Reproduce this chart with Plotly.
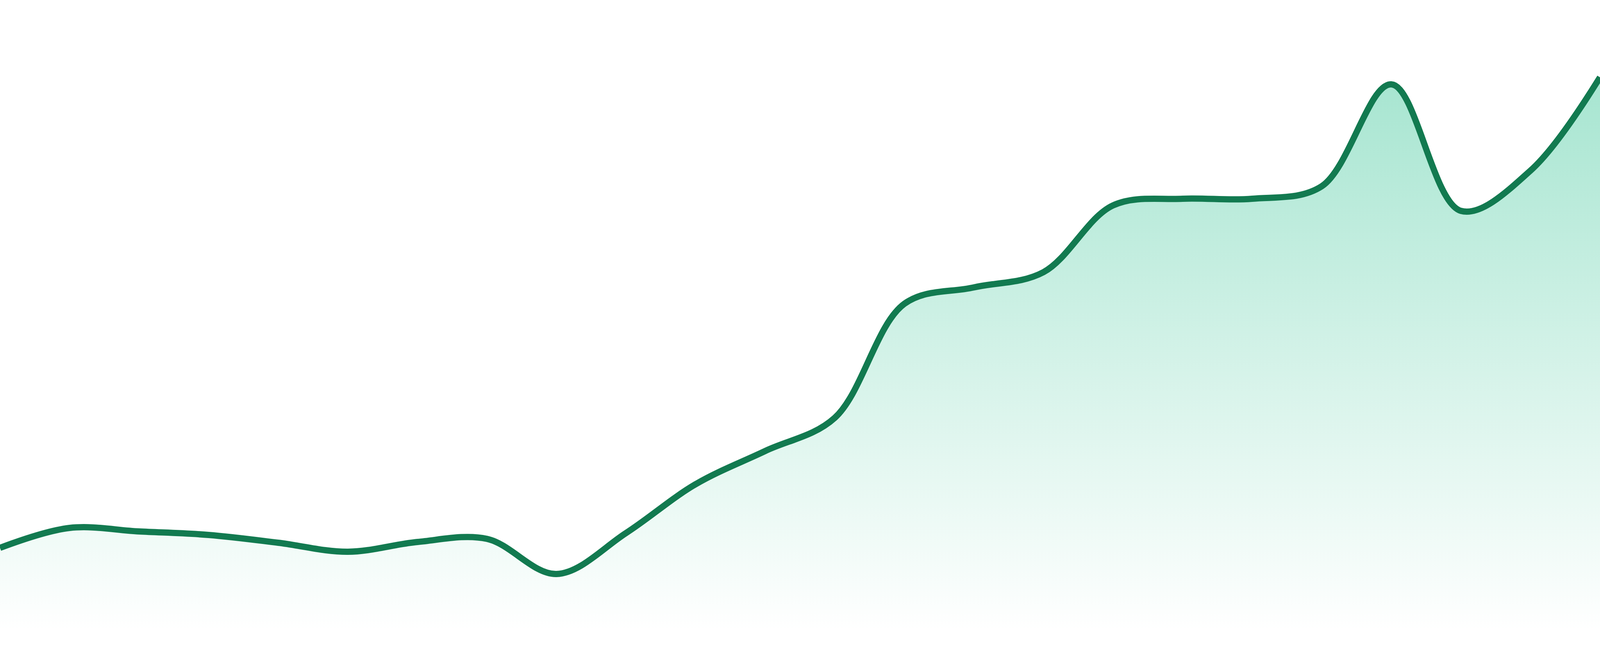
import plotly.graph_objects as go

# values (baseline = 0)
idx    = list(range(24))
values = [22.9, 28.0, 27.1, 26.2, 24.2, 21.9, 24.4, 25.2, 16.2, 26.7, 39.2, 47.7,
          56.2, 85.4, 89.6, 93.5, 110.6, 112.3, 112.3, 115.5, 141.6, 109.2, 119.5, 143.4]

lineColor = '#127a50'

trace = go.Scatter(
    x=idx, y=values,
    mode='lines',
    line=dict(color=lineColor, width=16, shape='spline', smoothing=1.0),
    fill='tozeroy',
    fillgradient=dict(
        type='vertical',
        start=0, stop=max(values),
        colorscale=[[0, 'rgba(16,185,129,0.0)'], [1, 'rgba(16,185,129,0.37)']]
    ),
    hoverinfo='skip',
    showlegend=False
)

layout = dict(
    autosize=True,
    margin=dict(l=0, r=0, t=0, b=0, pad=0),
    paper_bgcolor='white',
    plot_bgcolor='white',
    xaxis=dict(range=[0, 23], visible=False, fixedrange=True),
    # baseline sits a little above the bottom edge
    yaxis=dict(range=[-4.8, 163.2], visible=False, fixedrange=True),
)

fig = go.Figure(data=[trace], layout=layout)

# fill the whole window, no page margin
fitPage = ("var gd=document.getElementById('{plot_id}');"
           "document.documentElement.style.margin='0';"
           "document.body.style.margin='0';"
           "document.body.style.overflow='hidden';"
           "gd.style.width='100vw';gd.style.height='100vh';"
           "Plotly.Plots.resize(gd);")

fig.write_html("out.html", config={'responsive': True, 'displayModeBar': False},
               post_script=fitPage)
